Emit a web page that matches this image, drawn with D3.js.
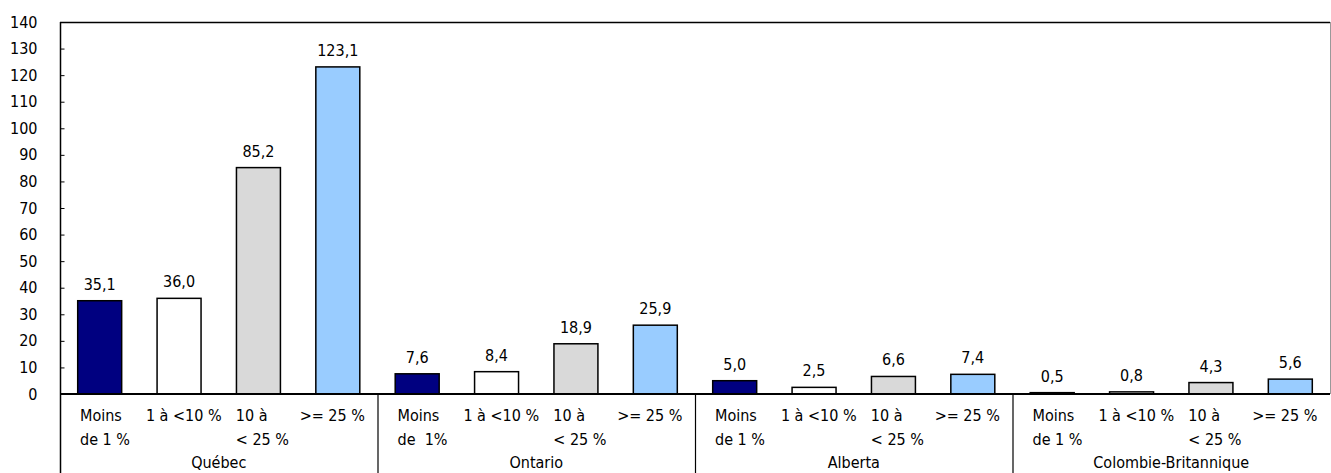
<!DOCTYPE html>
<html>
<head>
<meta charset="utf-8">
<script src="https://cdn.jsdelivr.net/npm/d3@7"></script>
<style>
  html, body { margin: 0; padding: 0; background: #fff; }
  svg { display: block; }
  text { font-family: "DejaVu Sans Condensed", "DejaVu Sans", sans-serif; font-stretch: condensed; font-size: 16px; fill: #000; }
</style>
</head>
<body>
<svg id="chart" width="1331" height="473"></svg>
<script>
// Provinces and the four size classes shown for each
const provinces = ["Québec", "Ontario", "Alberta", "Colombie-Britannique"];
const classes = ["c1", "c2", "c3", "c4"];

// Label lines under each bar (Ontario writes its first class slightly differently)
const classLabels = [
  [["Moins", "de 1 %"], ["1 à <10 %"], ["10 à", "< 25 %"], [">= 25 %"]],
  [["Moins", "de  1%"], ["1 à <10 %"], ["10 à", "< 25 %"], [">= 25 %"]],
  [["Moins", "de 1 %"], ["1 à <10 %"], ["10 à", "< 25 %"], [">= 25 %"]],
  [["Moins", "de 1 %"], ["1 à <10 %"], ["10 à", "< 25 %"], [">= 25 %"]]
];

// Values per province, one per class
const valuesQuebec = [35.1, 36.0, 85.2, 123.1];
const valuesOntario = [7.6, 8.4, 18.9, 25.9];
const valuesAlberta = [5.0, 2.5, 6.6, 7.4];
const valuesCB = [0.5, 0.8, 4.3, 5.6];
const seriesValues = [valuesQuebec, valuesOntario, valuesAlberta, valuesCB];

const yTicks = [0, 10, 20, 30, 40, 50, 60, 70, 80, 90, 100, 110, 120, 130, 140];

const classColors = ["#000080", "#ffffff", "#d9d9d9", "#99ccff"];
// Horizontal start of each class label inside its slot
const labelOffsets = [20, 6.5, 17, 1.5];

const svg = d3.select("#chart");
const plotLeft = 60, plotRight = 1330, plotTop = 22, plotBase = 394, plotBottom = 473;

const rows = [];
provinces.forEach((p, gi) => {
  classes.forEach((c, ci) => {
    rows.push({ key: p + "|" + c, province: p, gi, ci, value: seriesValues[gi][ci], lines: classLabels[gi][ci] });
  });
});

const x = d3.scaleBand()
  .domain(rows.map(d => d.key))
  .range([plotLeft, plotRight])
  .paddingInner(0.446)
  .paddingOuter(0.223);

const groupX = d3.scaleBand()
  .domain(provinces)
  .range([plotLeft, plotRight]);

const y = d3.scaleLinear().domain([0, 140]).range([plotBase, plotTop]);

const fmt = v => d3.format(".1f")(v).replace(".", ",");

// Frame: top and right edges of the plot
svg.append("line").attr("x1", plotLeft).attr("x2", plotRight).attr("y1", plotTop + 0.5).attr("y2", plotTop + 0.5)
  .attr("stroke", "#000").attr("stroke-width", 1.5);
svg.append("line").attr("x1", plotRight + 0.5).attr("x2", plotRight + 0.5).attr("y1", plotTop).attr("y2", plotBase)
  .attr("stroke", "#999").attr("stroke-width", 1);

// Y axis with inward ticks
const yAxis = d3.axisLeft(y).tickValues(yTicks).tickSize(-4).tickPadding(23).tickFormat(d3.format("d"));
const ya = svg.append("g").attr("transform", `translate(${plotLeft + 0.5},0)`).call(yAxis);
ya.attr("font-family", null).attr("font-size", null);
ya.select(".domain").attr("stroke", "#000").attr("stroke-width", 1.5).attr("d", `M0,${plotTop}V${plotBottom}`);
ya.selectAll(".tick line").attr("stroke", "#000");
ya.selectAll(".tick text").attr("fill", "#000");

// Bars
svg.append("g").selectAll("rect").data(rows).join("rect")
  .attr("x", d => x(d.key))
  .attr("width", x.bandwidth())
  .attr("y", d => y(d.value))
  .attr("height", d => y(0) - y(d.value))
  .attr("fill", d => classColors[d.ci])
  .attr("stroke", "#000")
  .attr("stroke-width", 1.5);

// Value labels
svg.append("g").selectAll("text").data(rows).join("text")
  .attr("x", d => x(d.key) + x.bandwidth() / 2)
  .attr("y", d => y(d.value) - 11)
  .attr("text-anchor", "middle")
  .text(d => fmt(d.value));

// Baseline
svg.append("line").attr("x1", plotLeft).attr("x2", plotRight).attr("y1", plotBase).attr("y2", plotBase)
  .attr("stroke", "#000").attr("stroke-width", 2);

// Group separators in the label area
svg.append("g").selectAll("line").data(provinces.slice(1)).join("line")
  .attr("x1", d => groupX(d) + 0.5).attr("x2", d => groupX(d) + 0.5)
  .attr("y1", plotBase).attr("y2", plotBottom)
  .attr("stroke", "#000").attr("stroke-width", 1.2);

// Class labels
const slotStart = d => x(d.key) - x.step() * x.paddingOuter();
const lab = svg.append("g").selectAll("text").data(rows).join("text")
  .attr("y", 421)
  .style("white-space", "pre");
lab.selectAll("tspan").data(d => d.lines.map((t, i) => ({ t, i, x: slotStart(d) + labelOffsets[d.ci] })))
  .join("tspan")
  .attr("x", t => t.x)
  .attr("y", t => 421 + t.i * 24)
  .text(t => t.t);

// Province names
svg.append("g").selectAll("text").data(provinces).join("text")
  .attr("x", d => groupX(d) + groupX.bandwidth() / 2)
  .attr("y", 468)
  .attr("text-anchor", "middle")
  .text(d => d);
</script>
</body>
</html>
